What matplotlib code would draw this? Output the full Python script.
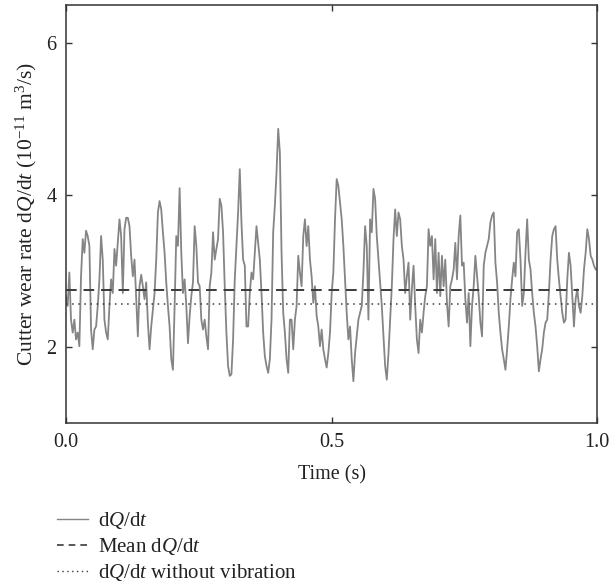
import numpy as np
import matplotlib
matplotlib.use("Agg")
import matplotlib.pyplot as plt
from matplotlib.lines import Line2D

# ---- data ----
wear_rate = [
    # 0.00 - 0.20 s
    2.67, 2.54, 2.98, 2.36, 2.19, 2.36, 2.10, 2.19, 2.01, 2.93, 3.42, 3.24, 3.53, 3.46, 3.33, 2.23,
    1.97, 2.23, 2.27, 2.54, 2.89, 3.46, 3.15, 2.36, 2.19, 2.10, 2.54, 2.89, 2.71, 3.29, 3.07, 3.37,
    3.68, 3.46, 2.71, 3.55, 3.70, 3.70, 3.59, 3.20, 2.93, 3.15, 2.63, 2.14, 2.80, 2.95, 2.80, 2.63,
    2.85, 2.32, 1.97, 2.27, 2.49, 2.71, 3.15, 3.77, 3.92, 3.81, 3.51, 3.24, 2.85, 2.54, 2.27, 1.84,
    # 0.20 - 0.40 s
    1.70, 2.54, 3.46, 3.33, 4.09, 3.24, 2.71, 2.89, 2.54, 2.05, 2.41, 2.67, 2.85, 3.59, 3.33, 2.85,
    2.80, 2.36, 2.23, 2.36, 2.14, 1.97, 2.80, 2.98, 3.51, 3.15, 3.29, 3.42, 3.95, 3.86, 3.51, 2.80,
    2.19, 1.75, 1.62, 1.64, 2.10, 2.89, 3.33, 3.77, 4.34, 3.64, 3.15, 3.07, 2.27, 2.27, 2.71, 2.98,
    2.89, 3.24, 3.59, 3.37, 3.15, 2.71, 2.19, 1.88, 1.75, 1.66, 1.84, 2.36, 3.51, 3.86, 4.30, 4.87,
    # 0.40 - 0.60 s
    4.56, 3.24, 2.45, 2.19, 1.84, 1.66, 2.36, 2.36, 1.97, 2.36, 2.54, 3.20, 2.98, 2.80, 3.46, 3.68,
    3.33, 3.59, 3.15, 2.93, 2.58, 2.80, 2.41, 2.27, 2.01, 2.23, 1.97, 1.84, 1.73, 1.92, 2.19, 2.71,
    2.98, 3.68, 4.21, 4.12, 3.90, 3.68, 3.33, 2.89, 2.45, 2.10, 2.27, 1.84, 1.55, 1.92, 2.14, 2.36,
    2.45, 2.54, 2.98, 3.59, 3.33, 2.36, 3.68, 3.51, 4.08, 3.95, 3.46, 3.15, 2.85, 2.54, 2.14, 1.75,
    # 0.60 - 0.80 s
    1.57, 1.92, 2.36, 2.80, 3.42, 3.81, 3.46, 3.77, 3.68, 3.33, 3.15, 2.71, 2.93, 3.11, 2.36, 2.76,
    3.07, 2.54, 2.10, 1.92, 2.36, 2.19, 2.45, 2.67, 2.80, 3.55, 3.33, 3.46, 2.89, 3.42, 2.71, 3.24,
    2.67, 3.20, 2.80, 3.15, 2.58, 2.27, 2.80, 2.89, 3.02, 3.37, 2.89, 3.46, 3.73, 3.07, 3.11, 2.63,
    2.32, 2.71, 2.01, 2.54, 2.80, 3.20, 2.93, 2.67, 2.32, 2.14, 3.07, 3.24, 3.33, 3.42, 3.64, 3.73,
    # 0.80 - 1.00 s
    3.77, 3.11, 2.85, 2.45, 2.19, 1.97, 1.84, 1.70, 1.97, 2.27, 2.63, 2.89, 3.11, 2.93, 3.51, 3.55,
    3.15, 2.54, 2.71, 3.24, 3.68, 3.15, 3.02, 2.71, 2.45, 2.27, 2.01, 1.68, 1.84, 1.97, 2.19, 2.32,
    2.36, 2.71, 3.15, 3.46, 3.55, 3.59, 3.15, 2.89, 2.67, 2.45, 2.32, 2.36, 2.89, 3.24, 3.07, 2.67,
    2.27, 2.63, 2.76, 2.54, 2.45, 2.67, 3.02, 3.24, 3.55, 3.42, 3.20, 3.15, 3.07, 3.02,
]
t_start, t_end = 0.0, 0.9975
time = np.linspace(t_start, t_end, len(wear_rate))

mean_rate = 2.75
mean_span = (0.0, 0.966)
no_vib_rate = 2.56
no_vib_span = (0.0, 1.0)

x_ticks = [0.0, 0.5, 1.0]
x_ticklabels = ["0.0", "0.5", "1.0"]
y_ticks = [2, 4, 6]
xlim = (0.0, 1.0)
ylim = (1.0, 6.5)

labels = [r"d$Q$/d$t$", r"Mean d$Q$/d$t$", r"d$Q$/d$t$ without vibration"]
xlabel = "Time (s)"
ylabel = r"Cutter wear rate d$Q$/d$t$ (10$^{-11}$ m$^{3}$/s)"

# ---- style ----
plt.rcParams["font.family"] = ["Liberation Serif", "DejaVu Serif"]
plt.rcParams["mathtext.fontset"] = "custom"
plt.rcParams["mathtext.rm"] = "Liberation Serif"
plt.rcParams["mathtext.it"] = "Liberation Serif:italic"
plt.rcParams["font.size"] = 14.5

W, H = 609, 586
fig = plt.figure(figsize=(W / 100, H / 100), dpi=100)
ax = fig.add_axes([66 / W, 1 - 423 / H, (597 - 66) / W, (423 - 5) / H])

ax.plot(time, wear_rate, color="#858585", lw=1.3, label=labels[0])
ax.hlines(mean_rate, *mean_span, colors="#3a3a3a", lw=1.4,
          linestyles=(0, (5.5, 3.5)), label=labels[1])
ax.hlines(no_vib_rate, *no_vib_span, colors="#3a3a3a", lw=1.1,
          linestyles=(0, (1, 3)), label=labels[2])

ax.set_xlim(*xlim)
ax.set_ylim(*ylim)
ax.set_xticks(x_ticks)
ax.set_xticklabels(x_ticklabels)
ax.set_yticks(y_ticks)
ax.tick_params(direction="in", length=4, width=1, top=True, right=True,
               colors="#333333", labelcolor="#222222", labelsize=14.5)
ax.tick_params(axis="x", pad=7)
ax.tick_params(axis="y", pad=7)
for s in ax.spines.values():
    s.set_color("#333333")
    s.set_linewidth(1.1)

ax.set_xlabel(xlabel, labelpad=10, color="#222222", fontsize=14.5)
ax.set_ylabel(ylabel, labelpad=5, color="#222222", fontsize=15.5)

handles = [
    Line2D([], [], color="#858585", lw=1.0),
    Line2D([], [], color="#3a3a3a", lw=1.2, linestyle=(0, (4, 3))),
    Line2D([], [], color="#3a3a3a", lw=1.0, linestyle=(0, (1, 2.5))),
]
fig.legend(handles, labels, loc="upper left",
           bbox_to_anchor=(57 / W, 1 - 510 / H), frameon=False,
           borderpad=0, borderaxespad=0, handlelength=1.5,
           handletextpad=0.45, labelspacing=0.25, fontsize=15,
           labelcolor="#222222")

fig.savefig("out.png", dpi=100)
